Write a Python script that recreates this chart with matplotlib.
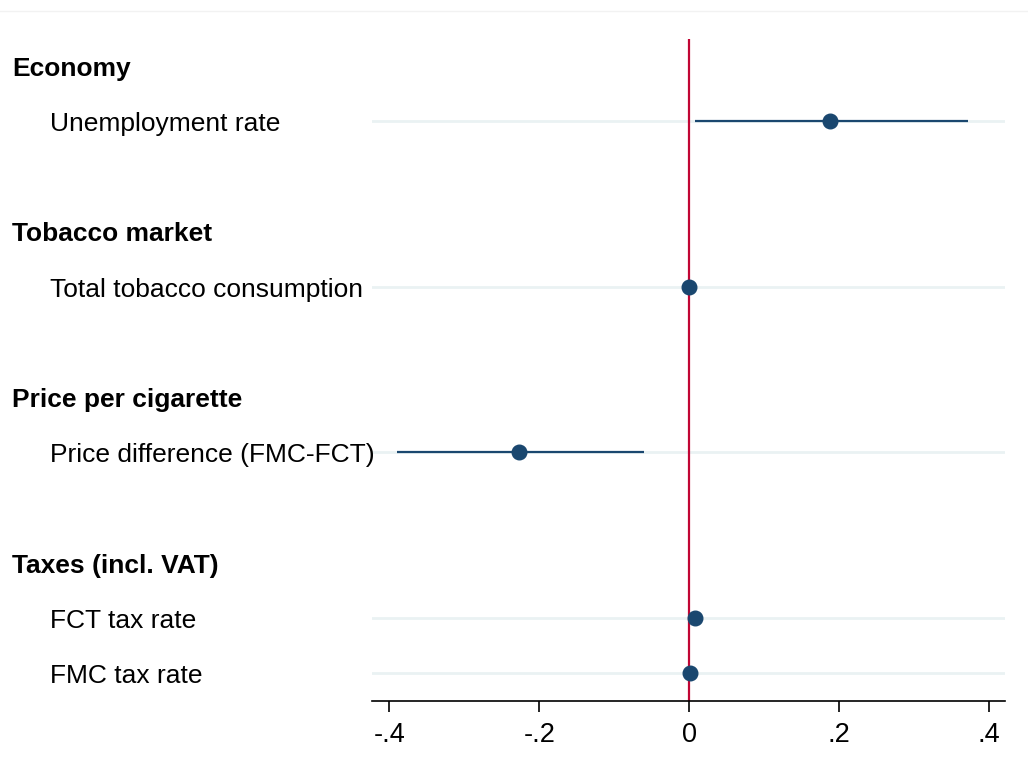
import matplotlib
matplotlib.use("Agg")
import matplotlib.pyplot as plt
from matplotlib.lines import Line2D
from matplotlib.transforms import blended_transform_factory, offset_copy

plt.rcParams['font.family'] = ['Liberation Sans', 'DejaVu Sans']

# Data
headers = ["Economy", "Tobacco market", "Price per cigarette", "Taxes (incl. VAT)"]
header_rows = [0, 3, 6, 9]
items = ["Unemployment rate", "Total tobacco consumption", "Price difference (FMC-FCT)",
         "FCT tax rate", "FMC tax rate"]
item_rows = [1, 4, 7, 10, 11]
estimates = [0.188, 0.000, -0.227, 0.007, 0.001]
ci_low = [0.008, -0.002, -0.389, 0.003, -0.002]
ci_high = [0.371, 0.002, -0.061, 0.011, 0.004]
xticks = [-0.4, -0.2, 0.0, 0.2, 0.4]
xticklabels = ["-.4", "-.2", "0", ".2", ".4"]

navy = "#1a476f"
red = "#c10534"

fig = plt.figure(figsize=(10.28, 7.6), dpi=100)
ax = fig.add_axes([372/1028, 1-701/760, (1005-372)/1028, (701-39)/760])

for r in item_rows:
    ax.axhline(r, color="#eaf2f3", lw=2, zorder=0)

ax.axvline(0, color=red, lw=1.6, zorder=1)

ax.hlines(item_rows, ci_low, ci_high, color=navy, lw=1.6, zorder=2)
ax.plot(estimates, item_rows, 'o', color=navy, markersize=10.5, zorder=3)

ax.set_xlim(-0.423, 0.421)
ax.set_ylim(11.507, -0.486)
ax.set_xticks(xticks)
ax.set_xticklabels(xticklabels, fontsize=19.5)
ax.set_yticks([])
for s in ["top", "right", "left"]:
    ax.spines[s].set_visible(False)
ax.spines["bottom"].set_linewidth(1.2)
ax.tick_params(axis="x", length=8, width=1.2, pad=7)

trans = blended_transform_factory(fig.transFigure, ax.transData)
trans = offset_copy(trans, fig=fig, x=0, y=-3, units="dots")
for h, r in zip(headers, header_rows):
    ax.text(12/1028, r, h, transform=trans, fontsize=19, fontweight="bold",
            ha="left", va="center", clip_on=False)
for it, r in zip(items, item_rows):
    ax.text(50/1028, r, it, transform=trans, fontsize=19,
            ha="left", va="center", clip_on=False)

fig.add_artist(Line2D([0, 1], [1-11/760, 1-11/760], transform=fig.transFigure,
                      color="#f2f2f2", lw=1))

fig.savefig("out.png", dpi=100)
